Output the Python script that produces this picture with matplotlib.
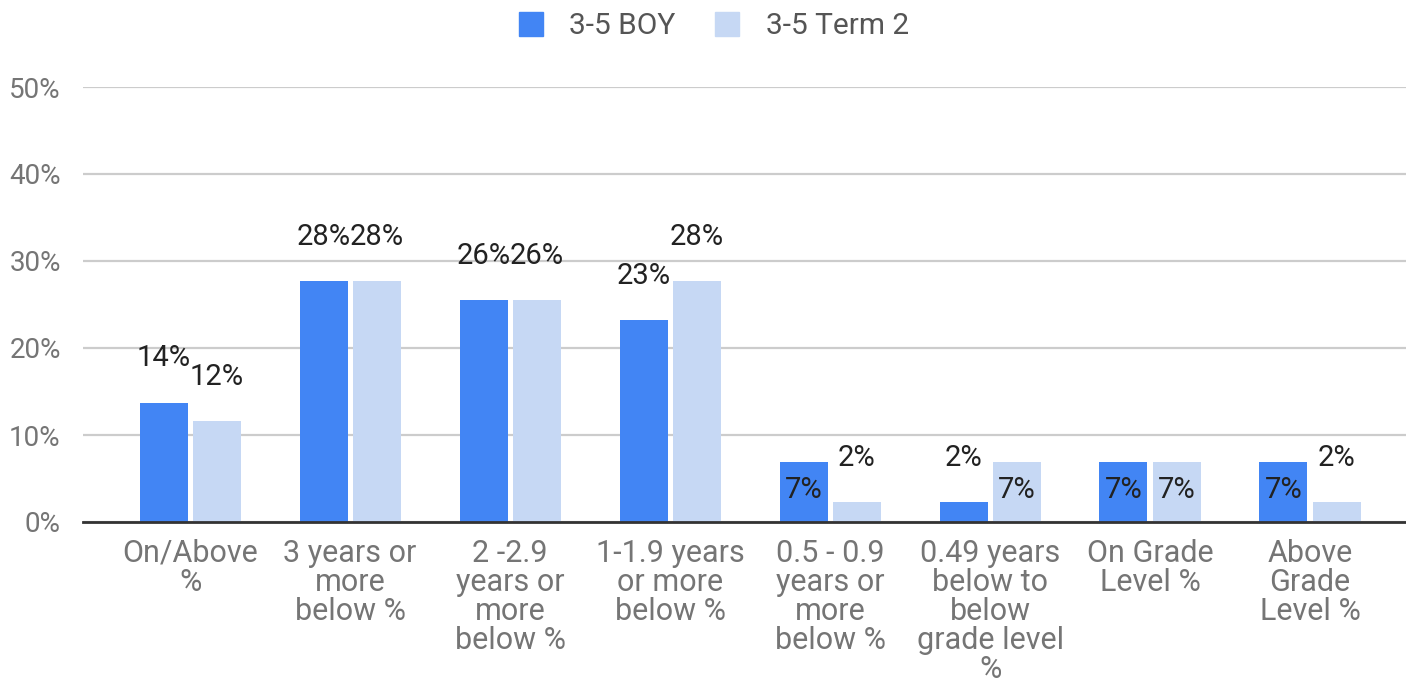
import numpy as np
import matplotlib.pyplot as plt
from matplotlib.patches import Patch

# --- Dados ---
categorias = ["On/Above\n%", "3 years or\nmore\nbelow %", "2 -2.9\nyears or\nmore\nbelow %",
              "1-1.9 years\nor more\nbelow %", "0.5 - 0.9\nyears or\nmore\nbelow %",
              "0.49 years\nbelow to\nbelow\ngrade level\n%", "On Grade\nLevel %", "Above\nGrade\nLevel %"]
boy = [13.7, 27.7, 25.5, 23.2, 6.9, 2.3, 6.9, 6.9]
term2 = [11.6, 27.7, 25.5, 27.7, 2.3, 6.9, 6.9, 2.3]
series_nomes = ["3-5 BOY", "3-5 Term 2"]
yticks = [0, 10, 20, 30, 40, 50]

cores = ["#4285F4", "#C6D8F4"]
cinza = "#757575"

plt.rcParams['font.family'] = ['Roboto', 'DejaVu Sans']

fig = plt.figure(figsize=(14.06, 6.82), dpi=100)
ax = fig.add_axes([83 / 1406, 160 / 682, 1 - 83 / 1406, 435 / 682])

x = np.arange(len(categorias))
largura = 0.30
desloc = 0.166

for serie, cor, d in [(boy, cores[0], -desloc), (term2, cores[1], desloc)]:
    barras = ax.bar(x + d, serie, width=largura, color=cor, zorder=3)
    for b, v in zip(barras, serie):
        cx = b.get_x() + b.get_width() / 2
        # rótulos pequenos (5-10%) ficam dentro da barra
        if 5 <= v < 10:
            off = -20
        else:
            off = 32
        ax.annotate(f"{v:.0f}%", (cx, v), xytext=(0, off), textcoords="offset points",
                    ha="center", va="center", fontsize=21, color="#222222", zorder=4)

ax.set_xlim(-0.67, 7.6)
ax.set_ylim(0, 50)
ax.set_yticks(yticks)
ax.set_yticklabels([f"{t}%" for t in yticks])
ax.set_xticks(x)
ax.set_xticklabels(categorias, linespacing=1.0, fontsize=22)
ax.tick_params(axis="both", length=0, labelcolor=cinza)
ax.tick_params(axis="y", pad=16, labelsize=20)
ax.tick_params(axis="x", pad=12)

ax.grid(axis="y", color="#CCCCCC", linewidth=1.6, zorder=0)
for s in ["top", "right", "left"]:
    ax.spines[s].set_visible(False)
ax.spines["bottom"].set_color("#333333")
ax.spines["bottom"].set_linewidth(2)
ax.spines["bottom"].set_zorder(5)

handles = [Patch(color=c) for c in cores]
fig.legend(handles, series_nomes, loc="center", bbox_to_anchor=(714 / 1406, 1 - 26 / 682),
           ncol=2, frameon=False, fontsize=21.5, labelcolor="#555555",
           handlelength=0.8, handleheight=0.9, handletextpad=0.9, columnspacing=1.33)

fig.savefig("out.png", dpi=100)
